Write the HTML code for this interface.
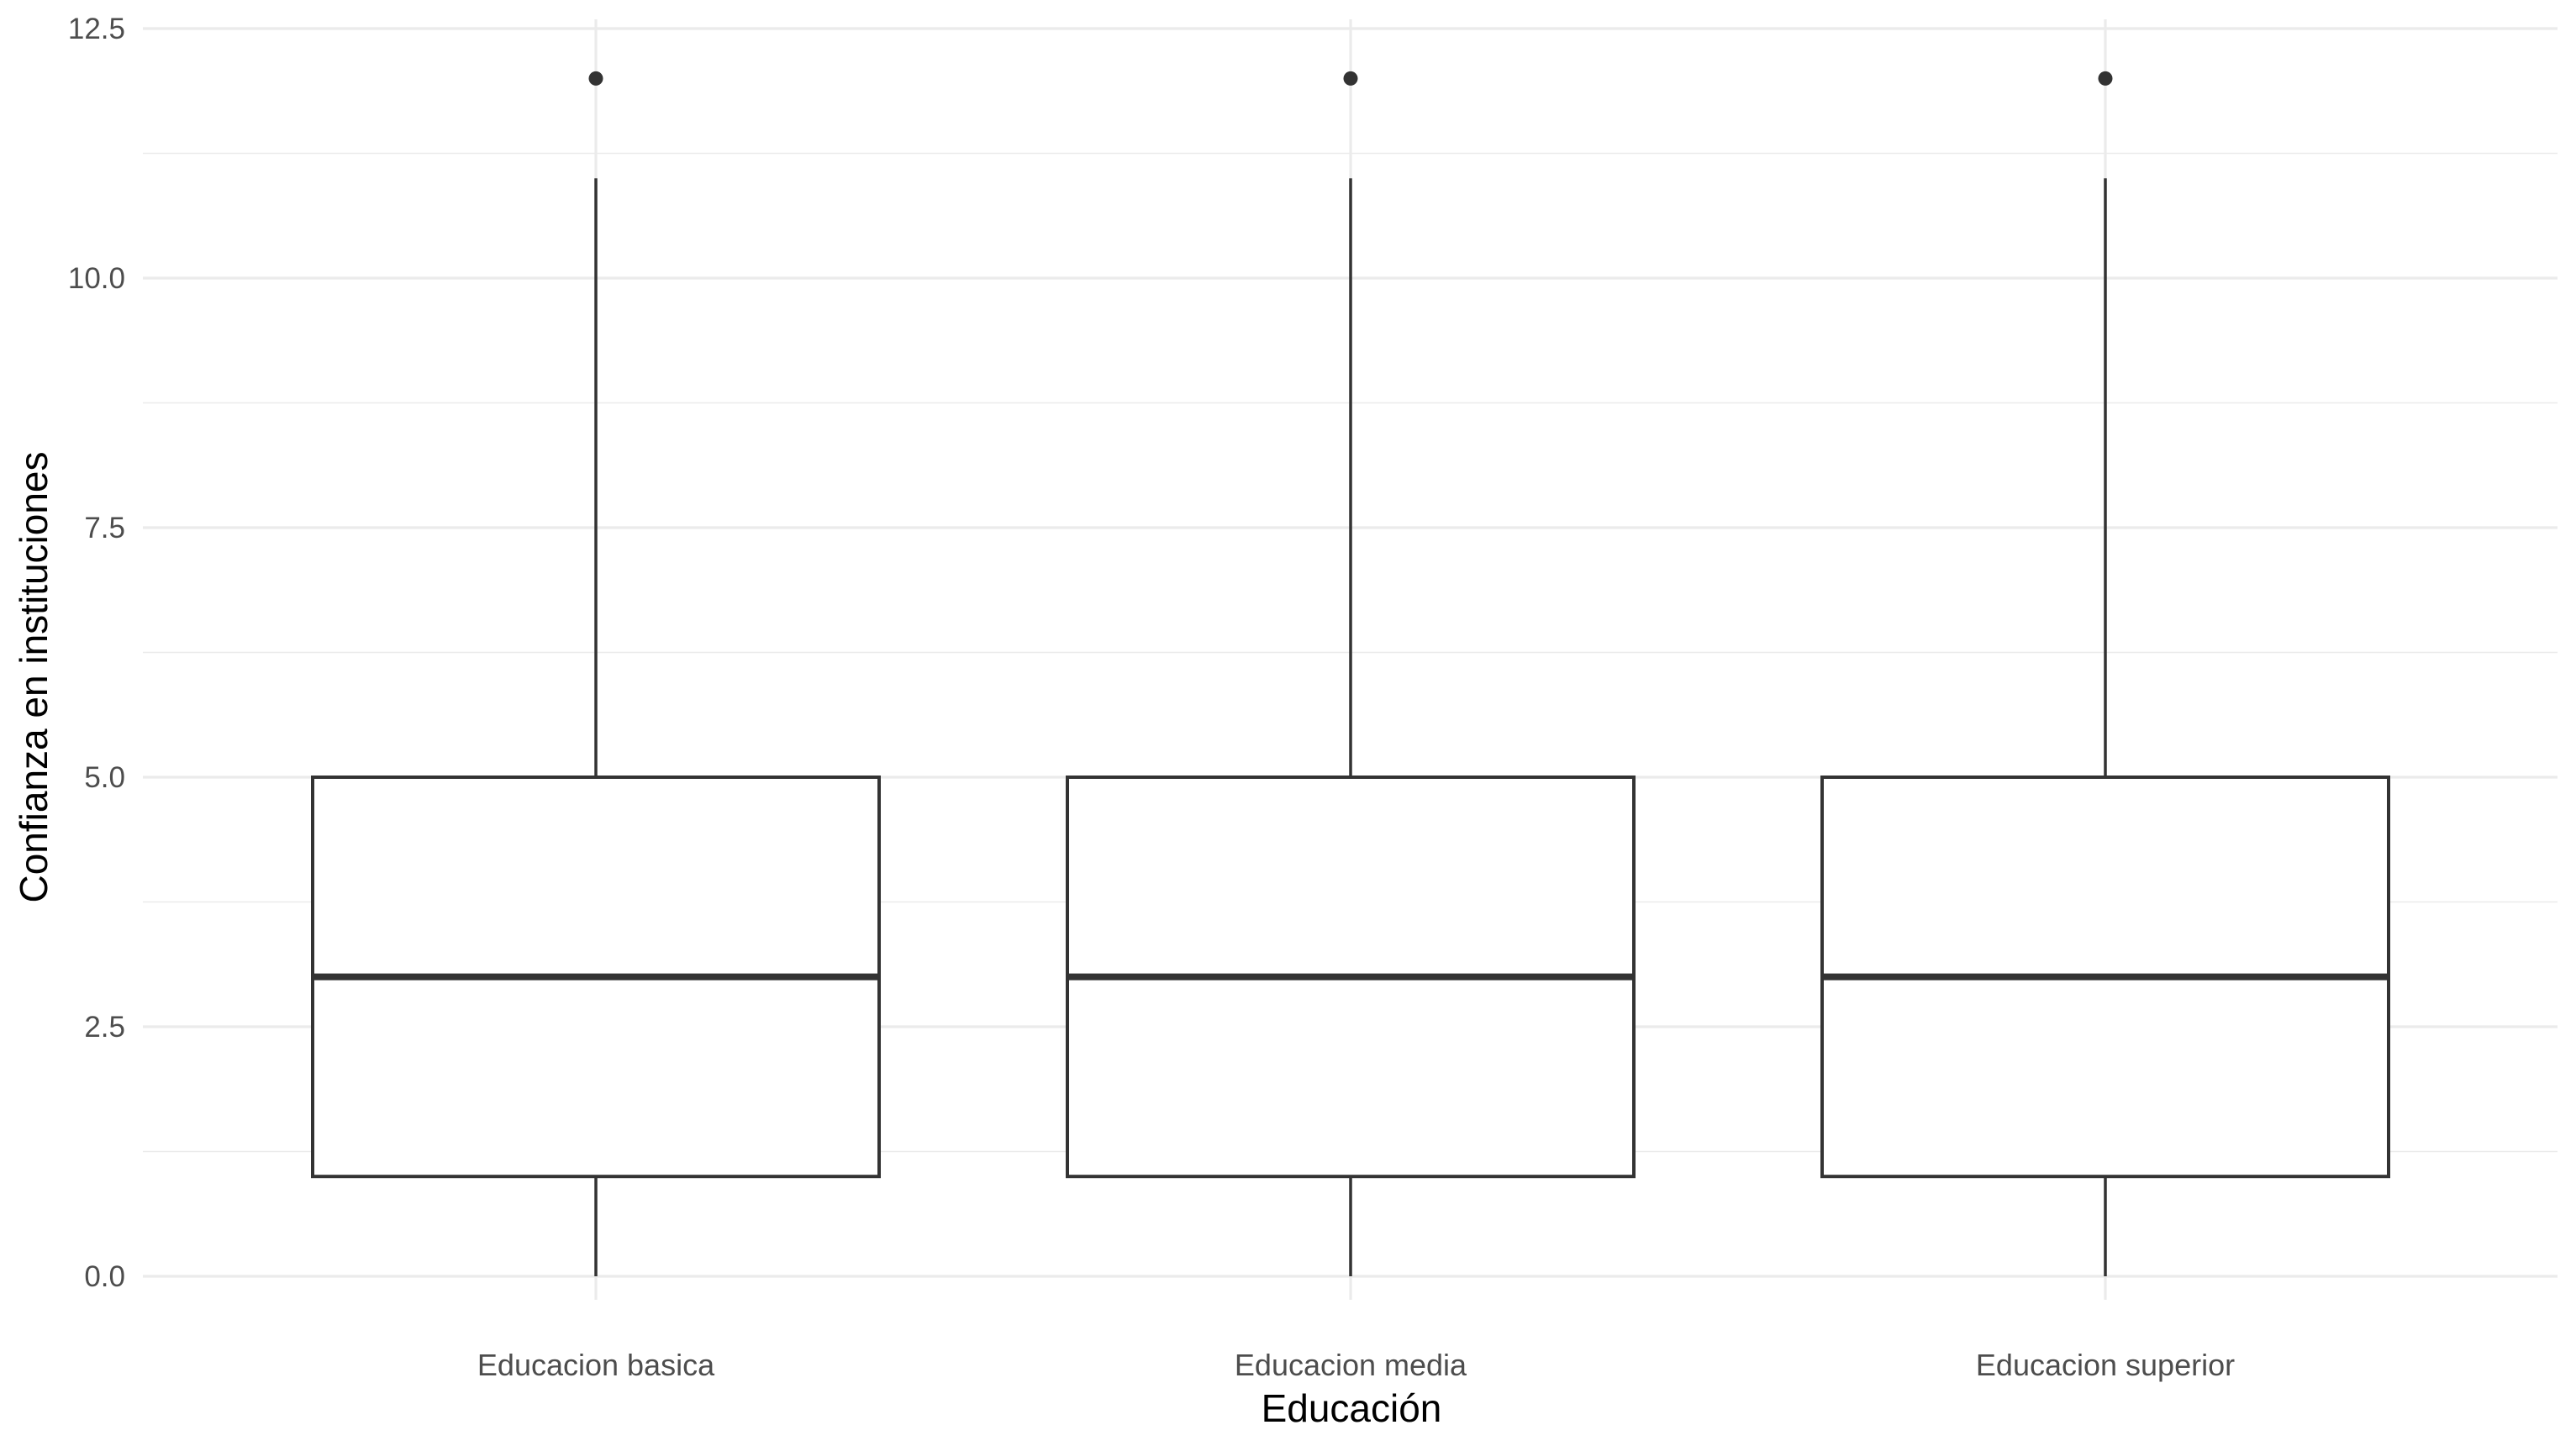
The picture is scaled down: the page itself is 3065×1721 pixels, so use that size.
<!DOCTYPE html>
<html><head><meta charset="utf-8"><style>
html,body{margin:0;padding:0;background:#fff;}
svg{display:block;font-family:"Liberation Sans",sans-serif;}
</style></head><body>
<svg id="chart" width="3065" height="1721" viewBox="0 0 3065 1721" xmlns="http://www.w3.org/2000/svg">
<g id="grid"></g>
<g id="boxes"></g>
<g id="axes"></g>
<text x="1608" y="1692" text-anchor="middle" font-size="46" fill="#000">Educación</text>
<text transform="translate(56,806) rotate(-90)" text-anchor="middle" font-size="46" fill="#000">Confianza en instituciones</text>
</svg>
<script>
const categories = ["Educacion basica","Educacion media","Educacion superior"];
const q1Values = [1,1,1];
const medianValues = [3,3,3];
const q3Values = [5,5,5];
const whiskerLow = [0,0,0];
const whiskerHigh = [11,11,11];
const outliers = [[12],[12],[12]];
const yTicks = [0,2.5,5,7.5,10,12.5];
const yTickLabels = ["0.0","2.5","5.0","7.5","10.0","12.5"];

const NS="http://www.w3.org/2000/svg";
const plotL=170, plotR=3043, plotT=23, plotB=1547;
function y(v){return 1519 - 118.8*v;}
function x(i){return 709 + i*898;}
const halfW=337;
function mk(tag,attrs,parent){const e=document.createElementNS(NS,tag);for(const k in attrs)e.setAttribute(k,attrs[k]);parent.appendChild(e);return e;}
const grid=document.getElementById('grid'), boxes=document.getElementById('boxes'), axes=document.getElementById('axes');
for(let i=0;i<yTicks.length-1;i++){
  const v=(yTicks[i]+yTicks[i+1])/2;
  const l=mk('line',{x1:plotL,x2:plotR,y1:y(v),y2:y(v),stroke:'#ebebeb','stroke-width':1.6},grid);
  
  
}
yTicks.forEach((v,i)=>{
  const l=mk('line',{x1:plotL,x2:plotR,y1:y(v),y2:y(v),stroke:'#ebebeb','stroke-width':3.2},grid);
  
  
  const t=mk('text',{x:149,y:y(v)+12,'text-anchor':'end','font-size':35,fill:'#4d4d4d'},axes);
  t.textContent=yTickLabels[i];
  
  
});
categories.forEach((c,i)=>{
  const cx=x(i);
  const g=mk('line',{x1:cx,x2:cx,y1:plotT,y2:plotB,stroke:'#ebebeb','stroke-width':3.2},grid);
  
  
  const t=mk('text',{x:cx,y:1637,'text-anchor':'middle','font-size':36,fill:'#4d4d4d'},axes);
  t.textContent=c;
  
  
  const grp=mk('g',{},boxes);
  
  
  const w1=mk('line',{x1:cx,x2:cx,y1:y(q3Values[i]),y2:y(whiskerHigh[i]),stroke:'#333','stroke-width':3.5},grp);
  
  
  const w2=mk('line',{x1:cx,x2:cx,y1:y(q1Values[i]),y2:y(whiskerLow[i]),stroke:'#333','stroke-width':3.5},grp);
  
  
  const r=mk('rect',{x:cx-halfW,y:y(q3Values[i]),width:2*halfW,height:y(q1Values[i])-y(q3Values[i]),fill:'#fff',stroke:'#333','stroke-width':4},grp);
  
  
  const m=mk('line',{x1:cx-halfW,x2:cx+halfW,y1:y(medianValues[i]),y2:y(medianValues[i]),stroke:'#333','stroke-width':8},grp);
  
  
  outliers[i].forEach(o=>{
    const p=mk('circle',{cx:cx,cy:y(o),r:8.5,fill:'#333'},grp);
    
    
  });
});
</script>
</body></html>
